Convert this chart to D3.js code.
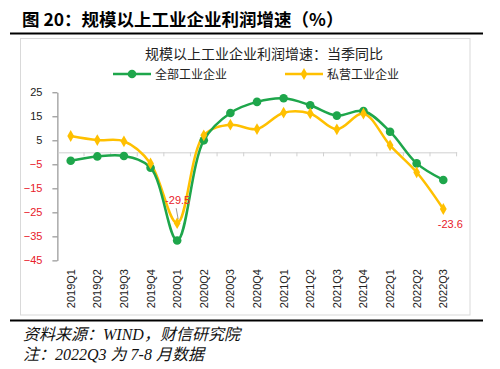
<!DOCTYPE html>
<html><head><meta charset="utf-8">
<script src="https://cdn.jsdelivr.net/npm/d3@7"></script>
<style>body{margin:0;background:#fff}svg{display:block}</style>
</head><body>
<svg id="c" width="500" height="369"></svg>
<script>
const categories = ["2019Q1","2019Q2","2019Q3","2019Q4","2020Q1","2020Q2","2020Q3","2020Q4","2021Q1","2021Q2","2021Q3","2021Q4","2022Q1","2022Q2","2022Q3"];
const allIndustry = [-3.5,-1.7,-1.5,-6.4,-36.7,5.0,16.4,21.0,22.5,19.6,15.3,17.2,8.6,-4.6,-11.5];
const privateIndustry = [6.8,5.1,4.6,-4.6,-29.5,7.1,11.5,9.7,16.5,16.2,9.6,16.1,2.9,-8.3,-23.6];
const yTicks = [25,15,5,-5,-15,-25,-35,-45];
const seriesNames = ["全部工业企业","私营工业企业"];

const svg = d3.select("#c");
const font = "'Noto Sans CJK SC','Microsoft YaHei',sans-serif";
const footFont = "'Liberation Serif','Noto Sans CJK SC',serif";
const green = "#1EA64B", yellow = "#FFC000";

// frame
svg.append("line").attr("x1",10).attr("x2",483).attr("y1",33.5).attr("y2",33.5).attr("stroke","#000").attr("stroke-width",2.2);
svg.append("line").attr("x1",10).attr("x2",483).attr("y1",320.5).attr("y2",320.5).attr("stroke","#000").attr("stroke-width",2.2);
svg.append("rect").attr("x",20.5).attr("y",38.5).attr("width",449.5).attr("height",276.5).attr("fill","none").attr("stroke","#d9d9d9");

svg.append("text").attr("x",22).attr("y",26).attr("font-family",font).attr("font-weight","bold").attr("font-size",17.5).attr("fill","#000")
  .text("图 20：规模以上工业企业利润增速（%）");

svg.append("text").attr("x",264).attr("y",59).attr("text-anchor","middle").attr("font-family",font).attr("font-size",14).attr("fill","#222")
  .text("规模以上工业企业利润增速：当季同比");

const x = d3.scaleBand().domain(categories).range([57.4,456.6]).padding(0);
const y = d3.scaleLinear().domain([-45,25]).range([260.4,92.3]);

// y axis
const yAxis = svg.append("g").attr("transform","translate(57.4,0)")
  .call(d3.axisLeft(y).tickValues(yTicks).tickSize(5).tickSizeOuter(0).tickFormat(d3.format("d")));
yAxis.select(".domain").attr("stroke","#7f7f7f");
yAxis.selectAll(".tick line").attr("stroke","#7f7f7f");
yAxis.selectAll(".tick text").attr("font-family","Liberation Sans, Arial, sans-serif").attr("font-size",11)
  .attr("fill",d=>d<0?"#e8202a":"#222").attr("x",-15);

// x axis at zero
const xAxis = svg.append("g").attr("transform",`translate(0,${y(0)})`)
  .call(d3.axisBottom(x).tickSize(0).tickFormat(""));
xAxis.select(".domain").attr("stroke","#d0d0d0");
const bounds = categories.map((c,i)=>x(c)).concat([x.range()[1]]);
svg.append("g").selectAll("line").data(bounds.slice(1)).join("line")
  .attr("x1",d=>d).attr("x2",d=>d).attr("y1",y(0)).attr("y2",y(0)+4).attr("stroke","#d0d0d0");

// x labels rotated
svg.append("g").selectAll("text").data(categories).join("text")
  .attr("transform",d=>`translate(${x(d)+x.bandwidth()/2+4},269) rotate(-90)`)
  .attr("text-anchor","end").attr("font-family","Liberation Sans, Arial, sans-serif").attr("font-size",11).attr("fill","#222")
  .text(d=>d);

const cx = (d,i)=>x(categories[i])+x.bandwidth()/2;
const line = d3.line().x((d,i)=>cx(d,i)).y(d=>y(d)).curve(d3.curveCatmullRom.alpha(0.5));

svg.append("path").datum(privateIndustry).attr("d",line).attr("fill","none").attr("stroke",yellow).attr("stroke-width",2.5);
svg.append("path").datum(allIndustry).attr("d",line).attr("fill","none").attr("stroke",green).attr("stroke-width",2.5);

svg.append("g").selectAll("circle").data(allIndustry).join("circle")
  .attr("cx",(d,i)=>cx(d,i)).attr("cy",d=>y(d)).attr("r",4.3).attr("fill",green);
const diamond = d3.symbol().type(d3.symbolDiamond).size(40);
svg.append("g").selectAll("path").data(privateIndustry).join("path")
  .attr("transform",(d,i)=>`translate(${cx(d,i)},${y(d)})`).attr("d",diamond).attr("fill",yellow);

// data labels
const i1 = 4, i2 = 14;
svg.append("line").attr("x1",cx(0,i1)-1).attr("y1",y(privateIndustry[i1])-15).attr("x2",cx(0,i1)+1).attr("y2",y(privateIndustry[i1])-4)
  .attr("stroke","#999").attr("stroke-width",1);
svg.append("text").attr("x",cx(0,i1)+0.5).attr("y",y(privateIndustry[i1])-19.5).attr("text-anchor","middle")
  .attr("font-family","Liberation Sans, Arial, sans-serif").attr("font-size",11).attr("fill","#e8202a").text(privateIndustry[i1].toFixed(1));
svg.append("text").attr("x",cx(0,i2)+7).attr("y",y(privateIndustry[i2])+19).attr("text-anchor","middle")
  .attr("font-family","Liberation Sans, Arial, sans-serif").attr("font-size",11).attr("fill","#e8202a").text(privateIndustry[i2].toFixed(1));

// legend
const lg = svg.append("g");
[[113,green,0],[285,yellow,1]].forEach(([lx,col,k])=>{
  lg.append("line").attr("x1",lx).attr("x2",lx+38).attr("y1",74).attr("y2",74).attr("stroke",col).attr("stroke-width",2.5);
  if(k===0) lg.append("circle").attr("cx",lx+19).attr("cy",74).attr("r",4.3).attr("fill",col);
  else lg.append("path").attr("transform",`translate(${lx+19},74)`).attr("d",diamond).attr("fill",col);
  lg.append("text").attr("x",lx+42).attr("y",78.5).attr("font-family",font).attr("font-size",12).attr("fill","#222").text(seriesNames[k]);
});

// footer
svg.append("text").attr("x",23).attr("y",340).attr("font-family",footFont).attr("font-style","italic").attr("font-size",16).attr("fill","#111")
  .text("资料来源：WIND，财信研究院");
svg.append("text").attr("x",23).attr("y",360).attr("font-family",footFont).attr("font-style","italic").attr("font-size",16).attr("fill","#111")
  .text("注：2022Q3 为 7-8 月数据");
</script>
</body></html>
